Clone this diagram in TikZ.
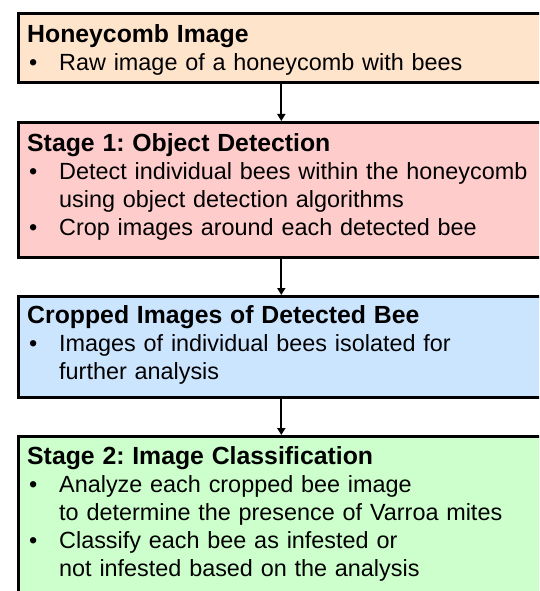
\documentclass[tikz,border=0pt]{standalone}
\usepackage{fontspec}
\setmainfont{Liberation Sans}
\usetikzlibrary{arrows.meta}
\definecolor{peach}{RGB}{255,228,204}
\definecolor{rose}{RGB}{255,204,204}
\definecolor{sky}{RGB}{204,229,255}
\definecolor{mint}{RGB}{204,255,204}
\newcommand{\btitle}[1]{{\fontsize{24.8}{28}\selectfont\bfseries #1}}
\newcommand{\bitem}[1]{\hspace*{2pt}\makebox[30pt][l]{\textbullet}#1}
\newcommand{\bcont}[1]{\hspace*{32pt}#1}
\frenchspacing
\tikzset{
    stagebox/.style={draw=black, line width=2.6pt, rectangle, anchor=north west,
        minimum width=526pt, inner sep=0pt},
    stagetext/.style={anchor=base west, inner sep=0pt, text width=520pt, align=left,
        font=\fontsize{23.4}{28}\selectfont},
    flow/.style={-{Triangle[width=8pt,length=7pt]}, line width=1.8pt}
}
\begin{document}
\begin{tikzpicture}[x=1pt,y=1pt]
                \useasboundingbox (0,0) rectangle (539,-591);
                \clip (0,0) rectangle (539,-591);

                \node[stagebox, fill=peach, minimum height=69pt] (img) at (17,-12) {};
                \node[stagebox, fill=rose, minimum height=135pt] (det) at (17,-121) {};
                \node[stagebox, fill=sky, minimum height=101pt] (crop) at (17,-295) {};
                \node[stagebox, fill=mint, minimum height=180pt] (cls) at (17,-435) {};

                \node[stagetext] (imgtext) at (27,-43) {\btitle{Honeycomb Image}\\
                    \bitem{Raw image of a honeycomb with bees}};
                \node[stagetext] (dettext) at (27,-151) {\btitle{Stage 1: Object Detection}\\
                    \bitem{Detect individual bees within the honeycomb}\\
                    \bcont{using object detection algorithms}\\
                    \bitem{Crop images around each detected bee}};
                \node[stagetext] (croptext) at (27,-323) {\btitle{Cropped Images of Detected Bee}\\
                    \bitem{Images of individual bees isolated for}\\
                    \bcont{further analysis}};
                \node[stagetext] (clstext) at (27,-464) {\btitle{Stage 2: Image Classification}\\
                    \bitem{Analyze each cropped bee image}\\
                    \bcont{to determine the presence of Varroa mites}\\
                    \bitem{Classify each bee as infested or}\\
                    \bcont{not infested based on the analysis}};

                \draw[flow] (img.south) -- (det.north);
                \draw[flow] (det.south) -- (crop.north);
                \draw[flow] (crop.south) -- (cls.north);
            \end{tikzpicture}
\end{document}
